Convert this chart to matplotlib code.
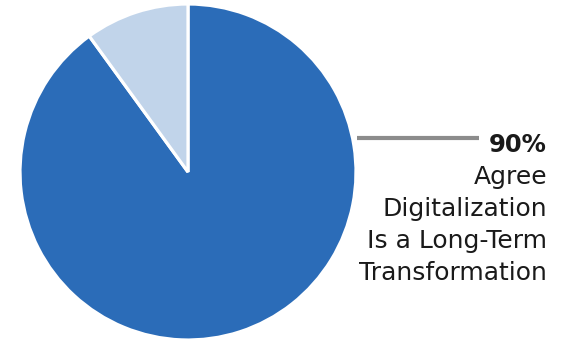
import matplotlib
matplotlib.use("Agg")
import matplotlib.pyplot as plt

shares = [90, 10]
slice_colors = ["#2b6cb8", "#c1d4ea"]
headline = "90%"
caption_lines = ["Agree", "Digitalization", "Is a Long-Term", "Transformation"]

W, H = 565, 339
fig = plt.figure(figsize=(W / 100, H / 100), dpi=100)
ax = fig.add_axes([0, 0, 1, 1])
ax.set_xlim(0, W)
ax.set_ylim(0, H)
ax.set_aspect("equal")
ax.axis("off")

ax.pie(shares, colors=slice_colors, startangle=90, counterclock=False,
       center=(188, H - 172), radius=168,
       wedgeprops=dict(edgecolor="white", linewidth=2.3))
ax.set_xlim(0, W)
ax.set_ylim(0, H)

# leader line from the pie edge to the label block
ax.plot([357, 479], [H - 138, H - 138], color="#8c8c8c", lw=3, solid_capstyle="butt")

font = "DejaVu Sans"
ax.text(547, H - 152, headline, ha="right", va="baseline", fontsize=17.5,
        fontweight="bold", family=font, color="#1a1a1a")
for i, line in enumerate(caption_lines):
    ax.text(547, H - (184 + 32 * i), line, ha="right", va="baseline",
            fontsize=18, family=font, color="#1a1a1a")

fig.savefig("out.png", dpi=100)
